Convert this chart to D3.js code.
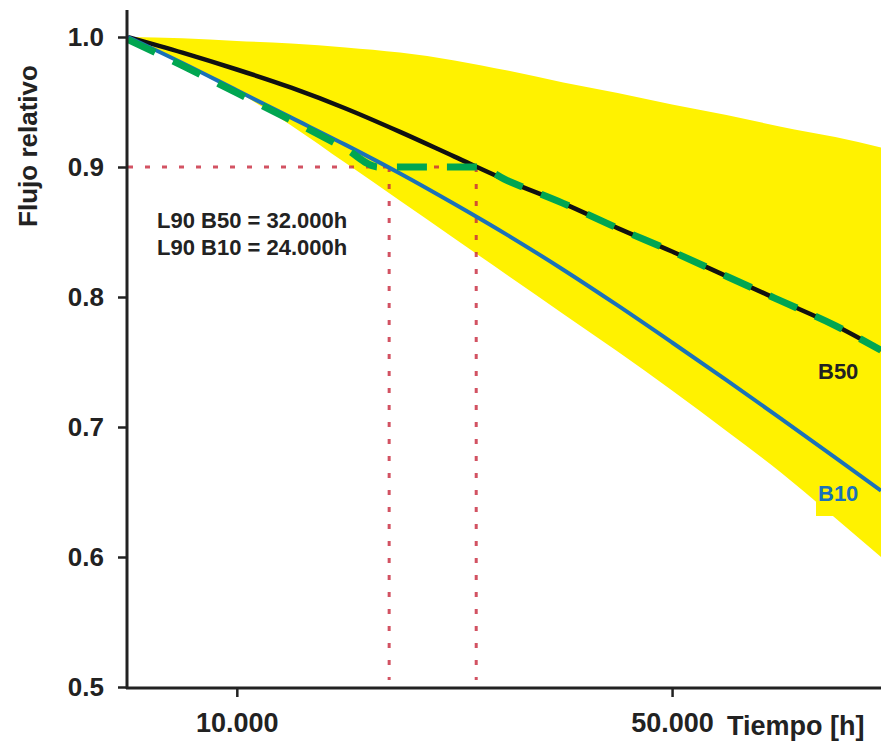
<!DOCTYPE html>
<html>
<head>
<meta charset="utf-8">
<script src="https://cdn.jsdelivr.net/npm/d3@7"></script>
<style>
  body { margin: 0; background: #fff; }
  svg { display: block; font-family: "Liberation Sans", Arial, sans-serif; font-weight: bold; }
</style>
</head>
<body>
<svg id="chart" width="881" height="753"></svg>
<script>
// hours of operation
const hours = [0, 5000, 10000, 15000, 20000, 25000, 30000, 35000, 40000, 45000, 50000, 55000, 60000, 65000, 69200];

// relative flux, B50 and B10 curves
const b50 = [1.0, 0.988, 0.975, 0.961, 0.945, 0.927, 0.908, 0.889, 0.872, 0.853, 0.835, 0.816, 0.797, 0.778, 0.759];
const b10 = [1.0, 0.98, 0.959, 0.938, 0.917, 0.895, 0.8715, 0.847, 0.821, 0.7935, 0.765, 0.736, 0.7065, 0.6765, 0.651];

// yellow scatter band
const bandUpper = [1.0, 0.999, 0.997, 0.995, 0.992, 0.988, 0.982, 0.974, 0.965, 0.957, 0.948, 0.94, 0.931, 0.923, 0.915];
const bandLower = [1.0, 0.98, 0.958, 0.932, 0.903, 0.874, 0.845, 0.816, 0.787, 0.758, 0.728, 0.697, 0.665, 0.63, 0.6];

// green dashed envelope
const greenHours = [0, 5000, 10000, 15000, 20000, 23000, 32000, 35000, 40000, 45000, 50000, 55000, 60000, 65000, 69200];
const greenVals = [0.998, 0.978, 0.957, 0.936, 0.914, 0.9, 0.9, 0.889, 0.872, 0.853, 0.835, 0.816, 0.797, 0.778, 0.759];

// L90 reference
const l90 = 0.9;
const l90Hours = [24000, 32000];

const yTicks = [0.5, 0.6, 0.7, 0.8, 0.9, 1.0];
const xTicks = [10000, 50000];
const notes = ["L90 B50 = 32.000h", "L90 B10 = 24.000h"];

const svg = d3.select("#chart");
const W = 881, H = 753;

const x = d3.scaleLinear().domain([0, 69200]).range([128, 881]);
const y = d3.scaleLinear().domain([0.5, 1.0]).range([687, 37]);

const defs = svg.append("defs");
defs.append("clipPath").attr("id", "plot")
  .append("rect").attr("x", 127).attr("y", 0).attr("width", W - 127).attr("height", 688);

const g = svg.append("g").attr("clip-path", "url(#plot)");

// Band
const area = d3.area()
  .x((d, i) => x(hours[i]))
  .y0((d, i) => y(bandLower[i]))
  .y1((d, i) => y(bandUpper[i]))
  .curve(d3.curveMonotoneX);

g.append("path")
  .datum(hours)
  .attr("d", area)
  .attr("fill", "#fff200");

// label patch behind B10
g.append("rect")
  .attr("x", 816).attr("y", 478).attr("width", 70).attr("height", 38)
  .attr("fill", "#fff200");

// Dotted reference lines
const dotted = g.append("g")
  .attr("stroke", "#c8283c")
  .attr("stroke-width", 3)
  .attr("stroke-dasharray", "5,12")
  .attr("opacity", 0.8)
  .attr("fill", "none");

dotted.append("line")
  .attr("x1", x(0)).attr("x2", x(l90Hours[1]))
  .attr("y1", y(l90)).attr("y2", y(l90));

dotted.selectAll("line.v")
  .data(l90Hours)
  .join("line")
  .attr("class", "v")
  .attr("x1", d => x(d)).attr("x2", d => x(d))
  .attr("y1", y(l90)).attr("y2", 680);

const line = d3.line()
  .x((d, i) => x(hours[i]))
  .y(d => y(d))
  .curve(d3.curveMonotoneX);

g.append("path")
  .datum(b50)
  .attr("d", line)
  .attr("fill", "none")
  .attr("stroke", "#111")
  .attr("stroke-width", 4.5);

g.append("path")
  .datum(b10)
  .attr("d", line)
  .attr("fill", "none")
  .attr("stroke", "#1b72b8")
  .attr("stroke-width", 4);

const greenLine = d3.line()
  .x((d, i) => x(greenHours[i]))
  .y(d => y(d))
  .curve(d3.curveMonotoneX);

g.append("path")
  .datum(greenVals)
  .attr("d", greenLine)
  .attr("fill", "none")
  .attr("stroke", "#00a651")
  .attr("stroke-width", 7)
  .attr("stroke-dasharray", "30,20");

// Axes
const axisG = svg.append("g").attr("fill", "#222");

axisG.append("line")
  .attr("x1", 127).attr("x2", 127)
  .attr("y1", 10).attr("y2", 689)
  .attr("stroke", "#222").attr("stroke-width", 3);

axisG.append("line")
  .attr("x1", 126).attr("x2", W)
  .attr("y1", 688).attr("y2", 688)
  .attr("stroke", "#222").attr("stroke-width", 3);

const yAxis = svg.append("g")
  .attr("transform", "translate(127,0)")
  .call(d3.axisLeft(y).tickValues(yTicks).tickFormat(d3.format(".1f")).tickSize(9).tickPadding(14));
yAxis.select(".domain").remove();
yAxis.selectAll(".tick line").attr("stroke", "#222").attr("stroke-width", 2.5);
yAxis.selectAll(".tick text")
  .attr("fill", "#222")
  .style("font-size", "26px")
  .style("font-weight", "bold")
  .style("font-family", "'Liberation Sans', Arial, sans-serif");

const xAxis = svg.append("g")
  .attr("transform", "translate(0,688)")
  .call(d3.axisBottom(x).tickValues(xTicks).tickFormat(d => d3.format(",")(d).replace(",", ".")).tickSize(9).tickPadding(16));
xAxis.select(".domain").remove();
xAxis.selectAll(".tick line").attr("stroke", "#222").attr("stroke-width", 2.5);
xAxis.selectAll(".tick text")
  .attr("fill", "#222")
  .style("font-size", "27px")
  .style("font-weight", "bold")
  .style("font-family", "'Liberation Sans', Arial, sans-serif");

svg.append("text")
  .attr("x", 727).attr("y", 735)
  .attr("fill", "#222")
  .style("font-size", "27px")
  .text("Tiempo [h]");

svg.append("text")
  .attr("transform", "translate(37,146) rotate(-90)")
  .attr("text-anchor", "middle")
  .attr("fill", "#222")
  .style("font-size", "26px")
  .text("Flujo relativo");

// Annotations
svg.append("g")
  .selectAll("text")
  .data(notes)
  .join("text")
  .attr("x", 157)
  .attr("y", (d, i) => 228 + i * 27)
  .attr("fill", "#222")
  .style("font-size", "22px")
  .text(d => d);

svg.append("text")
  .attr("x", 818).attr("y", 379)
  .attr("fill", "#222")
  .style("font-size", "22px")
  .text("B50");

svg.append("text")
  .attr("x", 818).attr("y", 501)
  .attr("fill", "#1b72b8")
  .style("font-size", "22px")
  .text("B10");
</script>
</body>
</html>
